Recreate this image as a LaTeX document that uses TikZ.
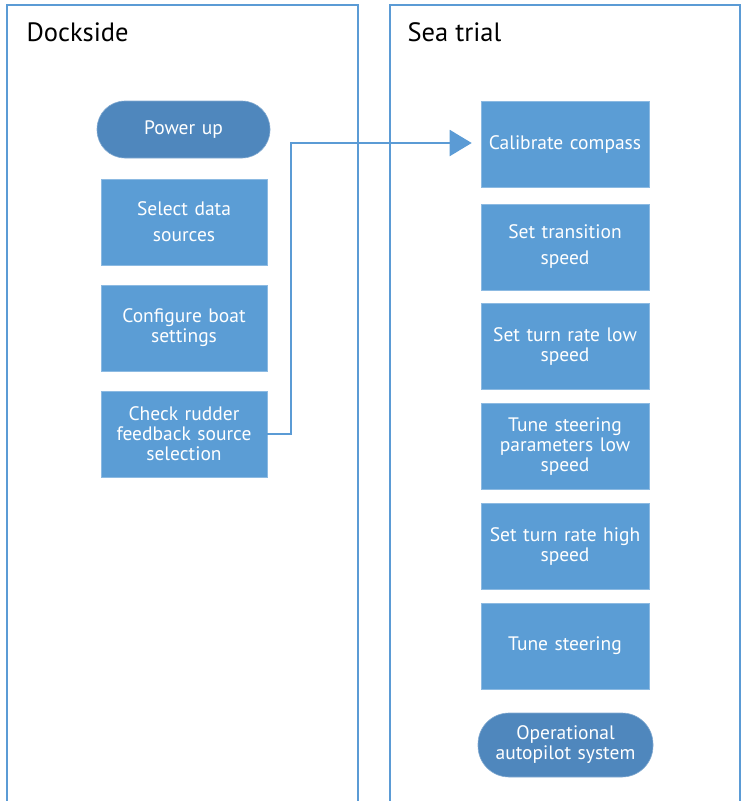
\documentclass[tikz,border=0pt]{standalone}
\usepackage{fontspec}
\setmainfont{PT Sans}
\usepackage{xcolor}
\usepackage{tikz}
\usetikzlibrary{arrows.meta,positioning,calc}

\definecolor{laneblue}{HTML}{5B9BD5}
\definecolor{boxblue}{HTML}{5B9DD5}
\definecolor{pillblue}{HTML}{4F87BD}

\begin{document}
\begin{tikzpicture}[
    x=1pt, y=-1pt,
    lane/.style={draw=laneblue, line width=2pt},
    stepbox/.style={rectangle, fill=boxblue, draw=boxblue!70!white, line width=0.6pt,
        minimum width=166pt, minimum height=86pt, text width=164pt, align=center,
        text=white, font=\fontsize{19.5}{20}\selectfont, inner sep=1pt},
    terminal/.style={rectangle, rounded corners=28pt, fill=pillblue, draw=pillblue!70!white,
        line width=0.6pt, minimum width=173pt, minimum height=57pt, text width=170pt,
        align=center, text=white, font=\fontsize{19.5}{20}\selectfont, inner sep=1pt},
    title/.style={anchor=base west, font=\fontsize{26.5}{30}\selectfont},
    flow/.style={draw=laneblue, line width=2pt, -{Triangle[length=22pt,width=26pt]}}
]
    \useasboundingbox (0,0) rectangle (745,801);

    % swimlanes
    \draw[lane] (7,810) -- (7,5) -- (358,5) -- (358,810);
    \draw[lane] (390,810) -- (390,5) -- (740,5) -- (740,810);
    \node[title] (dock) at (23,41) {Dockside};
    \node[title] (sea) at (404,41) {Sea trial};

    % dockside steps
    \node[terminal] (power) at (183.5,129.5) {Power up};
    \node[stepbox] (select) at (184,222) {Select data\\[6pt]sources};
    \node[stepbox] (config) at (184,328) {Configure boat\\settings};
    \node[stepbox] (rudder) at (184,434) {Check rudder\\feedback source\\selection};

    % sea trial steps
    \node[stepbox, minimum width=168pt] (compass) at (565,144.5) {Calibrate compass};
    \node[stepbox, minimum width=168pt] (trans) at (565,247) {Set transition\\[6pt]speed};
    \node[stepbox, minimum width=168pt] (lowrate) at (565,346.5) {Set turn rate low\\speed};
    \node[stepbox, minimum width=168pt] (lowtune) at (565,446.5) {Tune steering\\parameters low\\speed};
    \node[stepbox, minimum width=168pt] (highrate) at (565,546) {Set turn rate high\\speed};
    \node[stepbox, minimum width=168pt] (tune) at (565,646) {Tune steering};
    \node[terminal, minimum width=175pt, minimum height=64pt, rounded corners=31pt] (oper) at (565.5,745) {Operational\\autopilot system};

    % hand-over to sea trial
    \draw[flow] (rudder.east) -- ++(24,0) |- ($(compass.west)+(-9,-1.5)$);
\end{tikzpicture}
\end{document}
